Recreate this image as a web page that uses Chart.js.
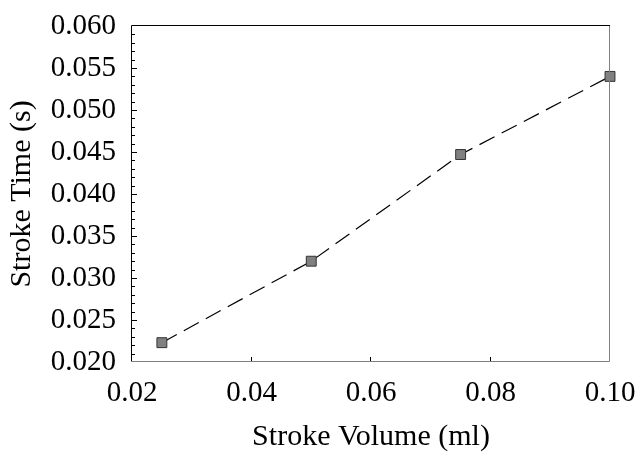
<!DOCTYPE html>
<html>
<head>
<meta charset="utf-8">
<script src="https://cdn.jsdelivr.net/npm/chart.js@4.4.0/dist/chart.umd.min.js"></script>
<style>
  html, body { margin: 0; padding: 0; background: #fff; }
</style>
</head>
<body>
<canvas id="chart" width="637" height="452"></canvas>
<script>
// data
const strokeVolume = [0.025, 0.050, 0.075, 0.100];   // ml
const strokeTime = [0.0223, 0.0320, 0.0447, 0.0540]; // s
const xTicks = [0.02, 0.04, 0.06, 0.08, 0.10];
const yTicks = [0.020, 0.025, 0.030, 0.035, 0.040, 0.045, 0.050, 0.055, 0.060];
const yMinorStep = 0.001;

const serif = '"Liberation Serif", "Times New Roman", Times, serif';

// frame + tick marks pointing into the plot
const frameAndTicks = {
  id: 'frameAndTicks',
  afterDatasetsDraw(chart) {
    const { ctx, chartArea: a, scales: { x, y } } = chart;
    ctx.save();
    ctx.lineWidth = 1;

    // minor / major ticks on the left axis
    ctx.strokeStyle = '#000';
    ctx.beginPath();
    const nMinor = Math.round((yTicks[yTicks.length - 1] - yTicks[0]) / yMinorStep);
    for (let i = 1; i < nMinor; i++) {
      const v = yTicks[0] + i * yMinorStep;
      const py = Math.round(y.getPixelForValue(v)) + 0.5;
      const len = i % 5 === 0 ? 5 : 3;
      ctx.moveTo(a.left, py);
      ctx.lineTo(a.left + len, py);
    }
    ctx.stroke();

    // ticks on the bottom axis
    ctx.beginPath();
    xTicks.slice(1, -1).forEach(v => {
      const px = Math.round(x.getPixelForValue(v)) - 0.5;
      ctx.moveTo(px, a.bottom);
      ctx.lineTo(px, a.bottom - 5);
    });
    ctx.stroke();

    // top & left black, right & bottom grey
    ctx.strokeStyle = '#000';
    ctx.beginPath();
    ctx.moveTo(a.left - 0.5, a.bottom);
    ctx.lineTo(a.left - 0.5, a.top - 0.5);
    ctx.lineTo(a.right, a.top - 0.5);
    ctx.stroke();
    ctx.strokeStyle = '#808080';
    ctx.beginPath();
    ctx.moveTo(a.right - 0.5, a.top);
    ctx.lineTo(a.right - 0.5, a.bottom - 0.5);
    ctx.lineTo(a.left - 1, a.bottom - 0.5);
    ctx.stroke();
    ctx.restore();
  }
};

function noPad(s) {
  s.paddingTop = 0;
  s.paddingBottom = 0;
  s.paddingLeft = 0;
  s.paddingRight = 0;
}

new Chart(document.getElementById('chart'), {
  type: 'scatter',
  data: {
    datasets: [{
      data: strokeVolume.map((v, i) => ({ x: v, y: strokeTime[i] })),
      showLine: true,
      borderColor: '#000',
      borderWidth: 1.2,
      borderDash: [17, 8],
      pointStyle: 'rect',
      pointRadius: 7,
      pointHoverRadius: 7,
      pointBackgroundColor: '#808080',
      pointBorderColor: '#333',
      pointBorderWidth: 1,
      clip: false
    }]
  },
  options: {
    responsive: false,
    animation: false,
    devicePixelRatio: 1,
    layout: { padding: { top: 26, right: 27, left: 0, bottom: 0 } },
    plugins: { legend: { display: false }, tooltip: { enabled: false } },
    scales: {
      x: {
        type: 'linear',
        min: xTicks[0],
        max: xTicks[xTicks.length - 1],
        afterBuildTicks: s => { s.ticks = xTicks.map(v => ({ value: v })); },
        afterFit: s => { s.height = 90; noPad(s); },
        grid: { display: false, drawTicks: false },
        border: { display: false },
        ticks: {
          color: '#000',
          padding: 14,
          maxRotation: 0,
          font: { family: serif, size: 29 },
          callback: v => v.toFixed(2)
        },
        title: {
          display: true,
          text: 'Stroke Volume (ml)',
          color: '#000',
          padding: { top: 0, bottom: -3 },
          font: { family: serif, size: 30 }
        }
      },
      y: {
        type: 'linear',
        min: yTicks[0],
        max: yTicks[yTicks.length - 1],
        afterBuildTicks: s => { s.ticks = yTicks.map(v => ({ value: v })); },
        afterFit: s => { s.width = 132; noPad(s); },
        grid: { display: false, drawTicks: false },
        border: { display: false },
        ticks: {
          color: '#000',
          padding: 16,
          font: { family: serif, size: 29 },
          callback: v => v.toFixed(3)
        },
        title: {
          display: true,
          text: 'Stroke Time (s)',
          color: '#000',
          padding: { top: 4, bottom: 0 },
          font: { family: serif, size: 30 }
        }
      }
    }
  },
  plugins: [frameAndTicks]
});
</script>
</body>
</html>
